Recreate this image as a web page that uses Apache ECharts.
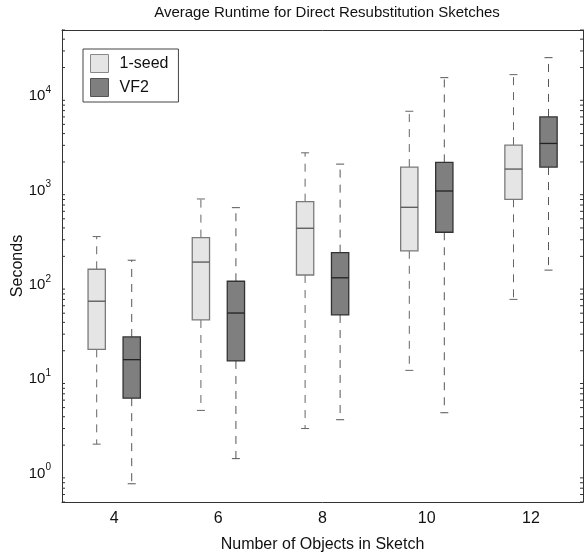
<!DOCTYPE html>
<html>
<head>
<meta charset="utf-8">
<script src="https://cdn.jsdelivr.net/npm/echarts@6/dist/echarts.min.js"></script>
<style>
html, body { margin: 0; padding: 0; background: #fff; }
#chart { width: 584px; height: 556px; }
</style>
</head>
<body>
<div id="chart"></div>
<script>
var categories = ['4', '6', '8', '10', '12'];
// box stats per category: min, q1, median, q3, max
var seedMin = [2.05, 4.67, 3.0, 12.4, 70];
var seedQ1 = [20.7, 42.4, 127, 229, 804];
var seedMed = [67, 174, 397, 662, 1682];
var seedQ3 = [146, 316, 759, 1766, 3015];
var seedMax = [324, 811, 2500, 6890, 16830];
var vf2Min = [0.78, 1.44, 3.72, 4.41, 143];
var vf2Q1 = [6.3, 15.6, 47.9, 360, 1766];
var vf2Med = [16.1, 50.2, 118.6, 985, 3142];
var vf2Q3 = [28, 109, 219, 1978, 6000];
var vf2Max = [182, 656, 1898, 15640, 25460];
var minorTicks = [0.5, 0.6, 0.7, 0.8, 0.9,
    2, 3, 4, 5, 6, 7, 8, 9,
    20, 30, 40, 50, 60, 70, 80, 90,
    200, 300, 400, 500, 600, 700, 800, 900,
    2000, 3000, 4000, 5000, 6000, 7000, 8000, 9000,
    20000, 30000, 40000, 50000];

var font = 'Liberation Sans';

function rows(mn, q1, md, q3, mx) {
    return categories.map(function (c, i) {
        return [i, mn[i], q1[i], md[i], q3[i], mx[i]];
    });
}

function boxRenderer(offsetFrac, fill, stroke, medColor, whiskColor) {
    return function (params, api) {
        var i = api.value(0);
        var band = params.coordSys.width / categories.length;
        var x = api.coord([i, 1])[0] + offsetFrac * band;
        var hw = band * 0.083;
        var cw = 4;
        var y = function (d) { return api.coord([i, api.value(d)])[1]; };
        var yMin = y(1), yQ1 = y(2), yMed = y(3), yQ3 = y(4), yMax = y(5);
        var dash = { stroke: whiskColor, lineWidth: 1, lineDash: [8, 7] };
        var solid = { stroke: whiskColor, lineWidth: 1 };
        return {
            type: 'group',
            children: [
                { type: 'line', shape: { x1: x, y1: yQ3, x2: x, y2: yMax }, style: dash },
                { type: 'line', shape: { x1: x, y1: yQ1, x2: x, y2: yMin }, style: dash },
                { type: 'line', shape: { x1: x - cw, y1: yMax, x2: x + cw, y2: yMax }, style: solid },
                { type: 'line', shape: { x1: x - cw, y1: yMin, x2: x + cw, y2: yMin }, style: solid },
                { type: 'rect', shape: { x: x - hw, y: yQ3, width: hw * 2, height: yQ1 - yQ3 },
                  style: { fill: fill, stroke: stroke, lineWidth: 1.3 } },
                { type: 'line', shape: { x1: x - hw, y1: yMed, x2: x + hw, y2: yMed },
                  style: { stroke: medColor, lineWidth: 1.3 } }
            ]
        };
    };
}

var chart = echarts.init(document.getElementById('chart'));

var option = {
    animation: false,
    backgroundColor: '#fff',
    textStyle: { fontFamily: font },
    title: {
        text: 'Average Runtime for Direct Resubstitution Sketches',
        left: 322, top: 0, textAlign: 'center',
        textStyle: { fontFamily: font, fontSize: 15, fontWeight: 'normal', color: '#111' }
    },
    legend: {
        orient: 'vertical',
        left: 83, top: 49,
        padding: [5, 10, 5, 7],
        itemGap: 5,
        itemWidth: 18, itemHeight: 18,
        icon: 'rect',
        backgroundColor: '#fff',
        borderColor: '#444', borderWidth: 1,
        textStyle: { fontFamily: font, fontSize: 16, color: '#111', padding: [0, 0, 0, 6] },
        data: [
            { name: '1-seed', itemStyle: { color: '#e5e5e5', borderColor: '#888', borderWidth: 1 } },
            { name: 'VF2', itemStyle: { color: '#7f7f7f', borderColor: '#555', borderWidth: 1 } }
        ]
    },
    grid: { left: 62, right: 1, top: 30, bottom: 54, containLabel: false, outerBoundsMode: 'none' },
    xAxis: [{
        type: 'category',
        data: categories,
        boundaryGap: true,
        name: 'Number of Objects in Sketch',
        nameLocation: 'middle',
        nameGap: 35,
        nameMoveOverlap: false,
        nameTextStyle: { fontFamily: font, fontSize: 16, color: '#111' },
        axisLine: { lineStyle: { color: '#333' } },
        axisTick: { inside: true, alignWithLabel: true, length: 6, lineStyle: { color: '#333' } },
        axisLabel: { fontFamily: font, fontSize: 16, color: '#111', margin: 9 },
        splitLine: { show: false }
    }, {
        type: 'category',
        data: categories,
        boundaryGap: true,
        position: 'top',
        axisLine: { lineStyle: { color: '#333' } },
        axisTick: { inside: true, alignWithLabel: true, length: 6, lineStyle: { color: '#333' } },
        axisLabel: { show: false },
        splitLine: { show: false }
    }],
    yAxis: [{
        type: 'log',
        min: 0.5, max: 50000,
        logBase: 10,
        name: 'Seconds',
        nameLocation: 'middle',
        nameGap: 36,
        nameMoveOverlap: false,
        nameTextStyle: { fontFamily: font, fontSize: 16, color: '#111' },
        axisLine: { show: true, lineStyle: { color: '#333' } },
        axisTick: { inside: true, length: 6, lineStyle: { color: '#333' } },
        axisLabel: {
            showMinLabel: false, showMaxLabel: false,
            margin: 11,
            formatter: function (v) {
                var e = Math.round(Math.log10(v));
                return '{b|10}{s|' + e + '}';
            },
            rich: {
                b: { fontFamily: font, fontSize: 15, color: '#111', lineHeight: 22 },
                s: { fontFamily: font, fontSize: 10, color: '#111', lineHeight: 14, verticalAlign: 'top' }
            }
        },
        splitLine: { show: false }
    }, {
        type: 'log',
        min: 0.5, max: 50000,
        logBase: 10,
        position: 'right',
        axisLine: { show: true, lineStyle: { color: '#333' } },
        axisTick: { inside: true, length: 6, lineStyle: { color: '#333' } },
        axisLabel: { show: false },
        splitLine: { show: false }
    }],
    series: [{
        name: 'minor',
        type: 'custom',
        silent: true,
        data: minorTicks.map(function (v) { return [0, v]; }),
        encode: { x: 0, y: 1 },
        renderItem: function (params, api) {
            var cs = params.coordSys;
            var yy = api.coord([0, api.value(1)])[1];
            var st = { stroke: '#333', lineWidth: 1 };
            return {
                type: 'group',
                children: [
                    { type: 'line', shape: { x1: cs.x, y1: yy, x2: cs.x + 3, y2: yy }, style: st },
                    { type: 'line', shape: { x1: cs.x + cs.width, y1: yy, x2: cs.x + cs.width - 3, y2: yy }, style: st }
                ]
            };
        }
    }, {
        name: '1-seed',
        type: 'custom',
        data: rows(seedMin, seedQ1, seedMed, seedQ3, seedMax),
        encode: { x: 0, y: [1, 2, 3, 4, 5] },
        itemStyle: { color: '#e5e5e5' },
        renderItem: boxRenderer(-0.167, '#e5e5e5', '#7a7a7a', '#555', '#666')
    }, {
        name: 'VF2',
        type: 'custom',
        data: rows(vf2Min, vf2Q1, vf2Med, vf2Q3, vf2Max),
        encode: { x: 0, y: [1, 2, 3, 4, 5] },
        itemStyle: { color: '#7f7f7f' },
        renderItem: boxRenderer(0.169, '#7f7f7f', '#333', '#222', '#555')
    }]
};

chart.setOption(option);
</script>
</body>
</html>
